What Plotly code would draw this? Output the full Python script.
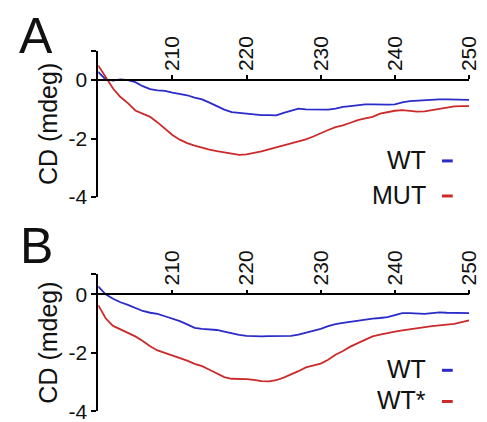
import plotly.graph_objects as go

wavelength = list(range(200, 251))

wt_a = [0.28, 0.02, -0.02, 0.02, 0.0, -0.07, -0.21, -0.31, -0.35, -0.37,
        -0.43, -0.47, -0.52, -0.6, -0.66, -0.77, -0.9, -1.01, -1.1, -1.13,
        -1.15, -1.17, -1.2, -1.2, -1.21, -1.12, -1.05, -0.98, -1.0, -1.01,
        -1.01, -1.01, -0.98, -0.92, -0.89, -0.85, -0.83, -0.83, -0.84, -0.84,
        -0.83, -0.76, -0.72, -0.7, -0.69, -0.67, -0.66, -0.66, -0.67, -0.68, -0.68]

mut_a = [0.5, 0.08, -0.29, -0.58, -0.79, -1.04, -1.16, -1.26, -1.45, -1.66,
         -1.88, -2.04, -2.16, -2.24, -2.32, -2.38, -2.43, -2.47, -2.52, -2.56,
         -2.54, -2.5, -2.44, -2.37, -2.3, -2.23, -2.15, -2.08, -2.03, -1.93,
         -1.81, -1.71, -1.61, -1.55, -1.46, -1.37, -1.31, -1.26, -1.15, -1.09,
         -1.05, -1.03, -1.05, -1.08, -1.07, -1.03, -0.99, -0.95, -0.9, -0.89, -0.89]

wt_b = [0.27, 0.0, -0.15, -0.27, -0.36, -0.47, -0.57, -0.63, -0.67, -0.75,
        -0.83, -0.92, -1.03, -1.15, -1.18, -1.19, -1.22, -1.28, -1.34, -1.39,
        -1.42, -1.44, -1.44, -1.43, -1.43, -1.44, -1.42, -1.38, -1.32, -1.25,
        -1.18, -1.09, -1.02, -0.98, -0.94, -0.9, -0.86, -0.83, -0.81, -0.78,
        -0.71, -0.64, -0.64, -0.65, -0.67, -0.64, -0.62, -0.63, -0.64, -0.64, -0.64]

wtstar_b = [-0.37, -0.82, -1.08, -1.2, -1.31, -1.44, -1.6, -1.78, -1.92, -2.01,
            -2.08, -2.17, -2.27, -2.38, -2.46, -2.58, -2.71, -2.83, -2.89, -2.89,
            -2.9, -2.93, -2.97, -2.98, -2.94, -2.85, -2.75, -2.63, -2.5, -2.43,
            -2.37, -2.24, -2.07, -1.94, -1.79, -1.67, -1.55, -1.44, -1.38, -1.32,
            -1.28, -1.23, -1.19, -1.15, -1.12, -1.09, -1.06, -1.04, -1.01, -0.95, -0.89]

x_ticks = [210, 220, 230, 240, 250]
y_ticks = [0, -2, -4]
y_title = "CD (mdeg)"
panel_labels = ["A", "B"]
legend_a = ["WT", "MUT"]
legend_b = ["WT", "WT*"]

BLUE = "#2b2bc8"
RED = "#cc2a2a"
FONT = "Liberation Sans, Arial, sans-serif"
W, H = 487, 422

def py(p):  # pixel y -> paper
    return (H - p) / H

def px(p):
    return p / W

fig = go.Figure()
fig.add_trace(go.Scatter(x=wavelength, y=wt_a, mode="lines", line=dict(color=BLUE, width=1.8),
                         xaxis="x", yaxis="y", showlegend=False))
fig.add_trace(go.Scatter(x=wavelength, y=mut_a, mode="lines", line=dict(color=RED, width=1.8),
                         xaxis="x", yaxis="y", showlegend=False))
fig.add_trace(go.Scatter(x=wavelength, y=wt_b, mode="lines", line=dict(color=BLUE, width=1.8),
                         xaxis="x2", yaxis="y2", showlegend=False))
fig.add_trace(go.Scatter(x=wavelength, y=wtstar_b, mode="lines", line=dict(color=RED, width=1.8),
                         xaxis="x2", yaxis="y2", showlegend=False))

xdom = [px(92.3), px(471.7)]
ydom_a = [py(194), py(44)]
ydom_b = [py(414), py(273)]

common_x = dict(range=[200, 250], domain=xdom, side="top", anchor="free",
                showline=True, linecolor="black", linewidth=1.5,
                ticks="outside", ticklen=4, tickwidth=1.5, tickcolor="black",
                tickvals=x_ticks, tickangle=-90, showgrid=False, zeroline=False,
                tickfont=dict(family=FONT, size=21, color="#111"))
common_y = dict(showline=True, linecolor="black", linewidth=1.5,
                ticks="outside", ticklen=5, tickwidth=1.5, tickcolor="black",
                showgrid=False, zeroline=False,
                tickfont=dict(family=FONT, size=21, color="#111"),
                title=dict(text=y_title, font=dict(family=FONT, size=25, color="#111"), standoff=4))

fig.update_layout(
    width=W, height=H, margin=dict(l=0, r=0, t=0, b=0),
    paper_bgcolor="white", plot_bgcolor="white",
    xaxis=dict(**common_x, position=py(74)),
    yaxis=dict(**common_y, domain=ydom_a, range=[-4, 1], anchor="x",
               tickvals=[1] + y_ticks, ticktext=[""] + [str(v) for v in y_ticks]),
    xaxis2=dict(**common_x, position=py(294)),
    yaxis2=dict(**common_y, domain=ydom_b, range=[-4, 0.7], anchor="x2",
                tickvals=[0.7] + y_ticks, ticktext=[""] + [str(v) for v in y_ticks]),
)

annotations = []
shapes = []
# panel letters
for lab, yc in zip(panel_labels, [29, 244]):
    annotations.append(dict(text=lab, x=px(29), y=py(yc), xref="paper", yref="paper",
                            showarrow=False, xanchor="center", yanchor="middle",
                            font=dict(family=FONT, size=50, color="#111")))
# legends
for labels, ys in [(legend_a, [156, 192]), (legend_b, [371, 403])]:
    for lab, yc, col in zip(labels, ys, [BLUE, RED]):
        annotations.append(dict(text=lab, x=px(430), y=py(yc), xref="paper", yref="paper",
                                showarrow=False, xanchor="right", yanchor="middle",
                                font=dict(family=FONT, size=25, color="#111")))
        shapes.append(dict(type="line", xref="paper", yref="paper",
                           x0=px(444), x1=px(455), y0=py(yc + 1), y1=py(yc + 1),
                           line=dict(color=col, width=3)))
fig.update_layout(annotations=annotations, shapes=shapes)

fig.write_html("out.html")
